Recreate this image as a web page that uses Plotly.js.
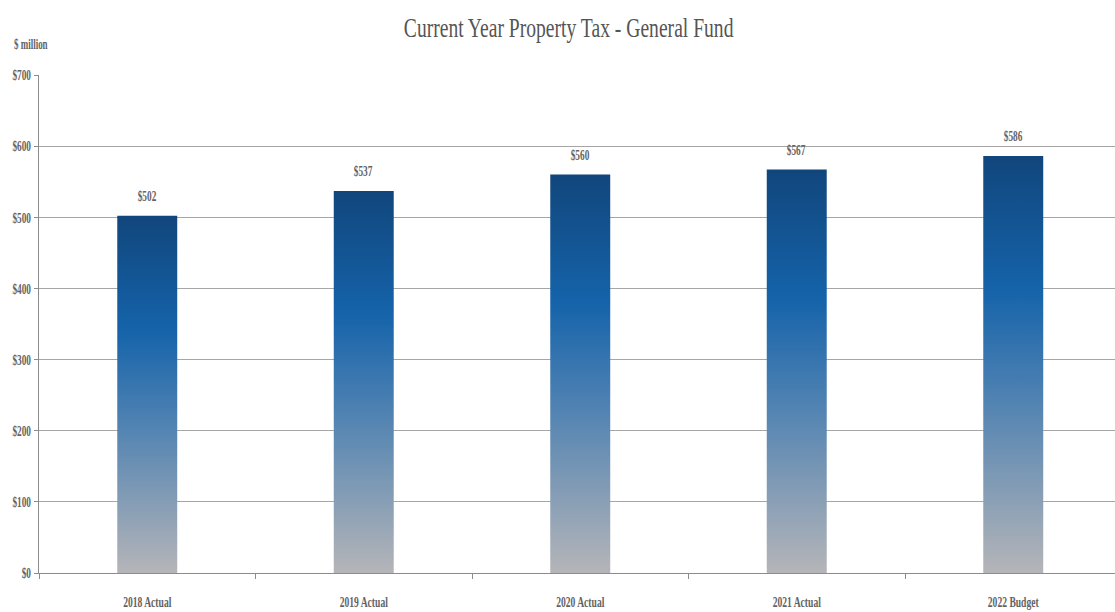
<!DOCTYPE html>
<html>
<head>
<meta charset="utf-8">
<script src="https://cdn.plot.ly/plotly-3.0.1.min.js"></script>
<style>
html,body{margin:0;padding:0;background:#fff;}
#chart{width:1115px;height:612px;}
</style>
</head>
<body>
<div id="chart"></div>
<script>
const categories = ["2018 Actual", "2019 Actual", "2020 Actual", "2021 Actual", "2022 Budget"];
const values = [502, 537, 560, 567, 586];
const yTickValues = [0, 100, 200, 300, 400, 500, 600, 700];
const yTickLabels = ["$0", "$100", "$200", "$300", "$400", "$500", "$600", "$700"];

const FONT = '"Liberation Serif", "Times New Roman", serif';
const GRAY = '#636363';

const trace = {
  type: 'bar',
  x: categories,
  y: values,
  width: 0.277,
  marker: {color: '#1562a8', line: {width: 0}},
  hoverinfo: 'none'
};

const annotations = categories.map((c, i) => ({
  x: c, y: values[i], xref: 'x', yref: 'y',
  text: '<b>$' + values[i] + '</b>', showarrow: false,
  yshift: 20, font: {family: FONT, size: 15, color: GRAY}
}));
annotations.push({
  xref: 'paper', yref: 'paper', x: 0, y: 1, xshift: -27, yshift: 31,
  xanchor: 'left', yanchor: 'middle',
  text: '<b>$ million</b>', showarrow: false,
  font: {family: FONT, size: 14, color: GRAY}
});

const layout = {
  width: 1115, height: 612,
  paper_bgcolor: '#ffffff', plot_bgcolor: '#ffffff',
  margin: {l: 39, r: 0, t: 75, b: 39},
  showlegend: false,
  title: {
    text: 'Current Year Property Tax - General Fund',
    x: 0.51, xanchor: 'center', y: 0.955, yanchor: 'middle',
    font: {family: FONT, size: 28, color: '#555555'}
  },
  xaxis: {
    type: 'category',
    range: [-0.5, 4.47],
    showgrid: false, zeroline: false,
    showline: true, linecolor: '#8c8c8c', linewidth: 1,
    ticks: 'outside', tickson: 'boundaries', ticklen: 5, tickcolor: '#8c8c8c',
    tickfont: {family: FONT, size: 15, color: GRAY, weight: 'bold'},
    ticklabelstandoff: 15
  },
  yaxis: {
    range: [0, 700],
    tickvals: yTickValues, ticktext: yTickLabels,
    showgrid: true, gridcolor: '#a6a6a6', gridwidth: 1,
    zeroline: false,
    showline: true, linecolor: '#8c8c8c', linewidth: 1,
    ticks: 'outside', ticklen: 4, tickcolor: '#8c8c8c',
    tickfont: {family: FONT, size: 15, color: GRAY, weight: 'bold'}
  },
  annotations: annotations
};

function applyStyling(gd) {
  const svg = gd.querySelector('.main-svg');
  if (!svg) return;
  let defs = svg.querySelector('defs');
  if (!defs) {
    defs = document.createElementNS('http://www.w3.org/2000/svg', 'defs');
    svg.insertBefore(defs, svg.firstChild);
  }
  if (!svg.querySelector('#barGrad')) {
    const ns = 'http://www.w3.org/2000/svg';
    const lg = document.createElementNS(ns, 'linearGradient');
    lg.setAttribute('id', 'barGrad');
    lg.setAttribute('x1', '0'); lg.setAttribute('y1', '0');
    lg.setAttribute('x2', '0'); lg.setAttribute('y2', '1');
    [['0', '#11467c'], ['0.32', '#1563aa'], ['0.58', '#4f82b2'], ['1', '#b5b5b8']].forEach(s => {
      const st = document.createElementNS(ns, 'stop');
      st.setAttribute('offset', s[0]);
      st.setAttribute('stop-color', s[1]);
      lg.appendChild(st);
    });
    defs.appendChild(lg);
  }
  gd.querySelectorAll('.trace.bars .point path').forEach(p => {
    p.style.fill = 'url(#barGrad)';
  });
  // condense serif text horizontally to mimic the narrow original face
  const condense = (el, k, anchor) => {
    const bb = el.getBBox();
    let cx = bb.x + bb.width / 2;
    if (anchor === 'right') cx = bb.x + bb.width;
    if (anchor === 'left') cx = bb.x;
    const prev = el.getAttribute('transform') || '';
    el.setAttribute('transform', prev + ` translate(${cx},0) scale(${k},1) translate(${-cx},0)`);
  };
  gd.querySelectorAll('.gtitle').forEach(el => condense(el, 0.70));
  gd.querySelectorAll('.xtick text').forEach(el => condense(el, 0.64));
  gd.querySelectorAll('.ytick text').forEach(el => condense(el, 0.62, 'right'));
  const ann = gd.querySelectorAll('.annotation-text');
  ann.forEach((el, i) => condense(el, i === ann.length - 1 ? 0.64 : 0.62, i === ann.length - 1 ? 'left' : 'center'));
}

const gd = document.getElementById('chart');
Plotly.newPlot(gd, [trace], layout, {displayModeBar: false, staticPlot: true}).then(() => applyStyling(gd));
</script>
</body>
</html>
